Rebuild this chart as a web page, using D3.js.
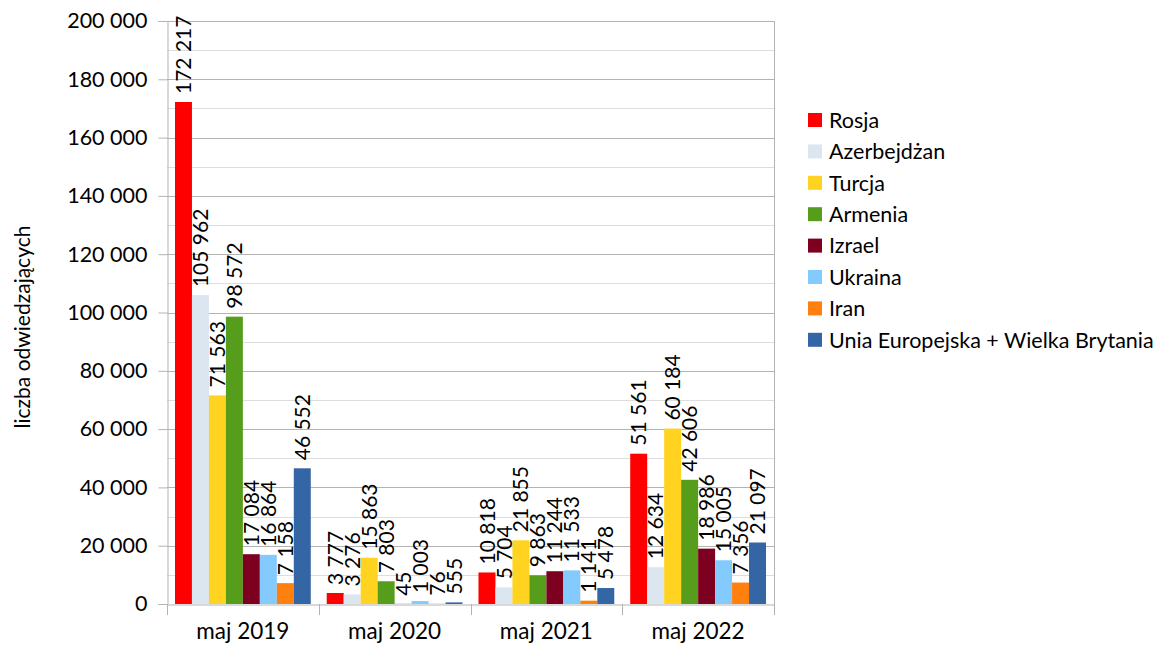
<!DOCTYPE html>
<html><head><meta charset="utf-8">
<script src="https://cdn.jsdelivr.net/npm/d3@7"></script>
<style>body{margin:0;background:#fff}svg{display:block}text{font-family:Lato,"Open Sans",sans-serif;fill:#000}</style>
</head><body><svg id="c" width="1161" height="646"></svg>
<script>
const categories = ["maj 2019","maj 2020","maj 2021","maj 2022"];
const seriesNames = ["Rosja","Azerbejdżan","Turcja","Armenia","Izrael","Ukraina","Iran","Unia Europejska + Wielka Brytania"];
const seriesColors = ["#ff0000","#dce6f0","#ffd320","#579d1c","#7e0021","#83caff","#ff800e","#3465a4"];
const rosja = [172217, 3777, 10818, 51561];
const azerbejdzan = [105962, 3276, 5704, 12634];
const turcja = [71563, 15863, 21855, 60184];
const armenia = [98572, 7803, 9863, 42606];
const izrael = [17084, 45, 11244, 18986];
const ukraina = [16864, 1003, 11533, 15005];
const iran = [7158, 76, 1141, 7356];
const ue = [46552, 555, 5478, 21097];
const seriesValues = [rosja, azerbejdzan, turcja, armenia, izrael, ukraina, iran, ue];
const yTicks = [0,20000,40000,60000,80000,100000,120000,140000,160000,180000,200000];
const yLabel = "liczba odwiedzających";

const svg = d3.select("#c");
const L = 167, R = 774, T = 21, B = 604;
const fmt = v => d3.format(",")(v).replace(/,/g, " ");

const x0 = d3.scaleBand().domain(categories).range([L, R]).paddingInner(0).paddingOuter(0);
const x1 = d3.scaleBand().domain(seriesNames).range([0, x0.bandwidth()]).paddingInner(0).paddingOuter(0.47);
const y = d3.scaleLinear().domain([0, 200000]).range([B, T]);

// minor grid
const minor = d3.range(10000, 200000, 20000);
svg.append("g").selectAll("line").data(minor).join("line")
  .attr("x1", L).attr("x2", R).attr("y1", d => Math.round(y(d)) + 0.5).attr("y2", d => Math.round(y(d)) + 0.5)
  .attr("stroke", "#dddddd").attr("stroke-width", 1);
// major grid
svg.append("g").selectAll("line").data(yTicks.filter(d => d > 0)).join("line")
  .attr("x1", L).attr("x2", R).attr("y1", d => Math.round(y(d)) + 0.5).attr("y2", d => Math.round(y(d)) + 0.5)
  .attr("stroke", "#b3b3b3").attr("stroke-width", 1);
// right border
svg.append("line").attr("x1", R + 0.5).attr("x2", R + 0.5).attr("y1", T).attr("y2", B).attr("stroke", "#b3b3b3");

// y axis
const yAxis = d3.axisLeft(y).tickValues(yTicks).tickFormat(fmt).tickSize(9).tickPadding(11);
const gy = svg.append("g").attr("transform", `translate(${L + 0.5},0)`).call(yAxis);
gy.select(".domain").attr("stroke", "#b3b3b3");
gy.selectAll(".tick line").attr("stroke", "#b3b3b3");
gy.selectAll(".tick text").style("font-size", "21.5px").attr("font-family", "Lato");

// x axis
const xAxis = d3.axisBottom(x0).tickSize(0).tickPadding(19);
const gx = svg.append("g").attr("transform", `translate(0,${B + 0.5})`).call(xAxis);
gx.select(".domain").attr("stroke", "#b3b3b3");
gx.selectAll(".tick text").style("font-size", "22.5px").attr("font-family", "Lato");
// category boundary ticks
const bounds = categories.map(c => x0(c)).concat([R]);
svg.append("g").selectAll("line").data(bounds).join("line")
  .attr("x1", d => Math.round(d) + 0.5).attr("x2", d => Math.round(d) + 0.5)
  .attr("y1", B).attr("y2", B + 11).attr("stroke", "#b3b3b3");

// bars
const rows = [];
seriesNames.forEach((s, si) => categories.forEach((c, ci) => rows.push({s, si, c, v: seriesValues[si][ci]})));
svg.append("g").selectAll("rect").data(rows).join("rect")
  .attr("x", d => x0(d.c) + x1(d.s))
  .attr("width", x1.bandwidth())
  .attr("y", d => y(d.v))
  .attr("height", d => B - y(d.v))
  .attr("fill", d => seriesColors[d.si]);

// labels
svg.append("g").selectAll("text").data(rows).join("text")
  .attr("transform", d => `translate(${x0(d.c) + x1(d.s) + x1.bandwidth() / 2},${y(d.v) - 8}) rotate(-90)`)
  .attr("dy", "0.36em")
  .style("font-size", "21px")
  .text(d => fmt(d.v));

// y label
svg.append("text").attr("transform", `translate(23,327) rotate(-90)`)
  .attr("text-anchor", "middle").attr("dy", "0.35em").style("font-size", "21px").text(yLabel);

// legend
const lg = svg.append("g");
const leg = lg.selectAll("g").data(seriesNames).join("g")
  .attr("transform", (d, i) => `translate(808,${120 + i * 31.4})`);
leg.append("rect").attr("x", 0).attr("y", -7).attr("width", 14).attr("height", 14).attr("fill", (d, i) => seriesColors[i]);
leg.append("text").attr("x", 21).attr("dy", "0.36em").style("font-size", "21.5px").text(d => d);
</script></body></html>
